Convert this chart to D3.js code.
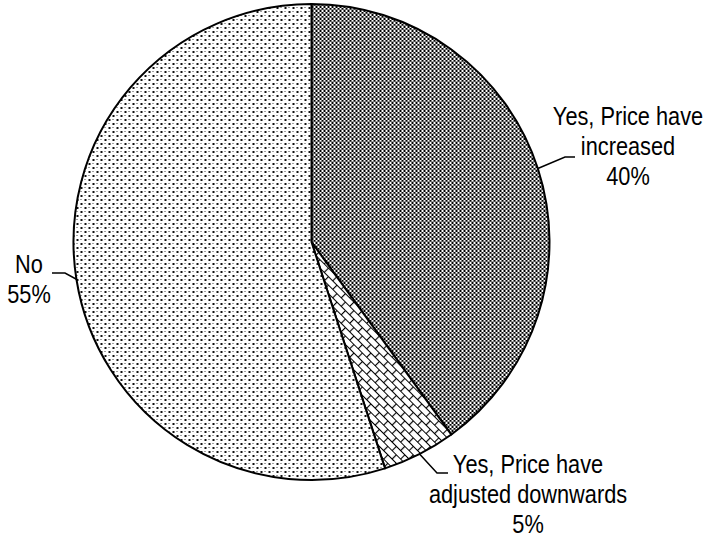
<!DOCTYPE html>
<html lang="en">
<head>
    <meta charset="UTF-8">
    <title>Price change pie</title>
    <script src="https://d3js.org/d3.v7.min.js"></script>
    <style>
        body{ margin:0; background:#fff; }
        #chart{ width:705px; height:537px; }
        .lbl{ font-family:"Liberation Sans", Arial, sans-serif; font-size:25px; fill:#000; }
    </style>
</head>
<body>
    <div id="chart"></div>
    <script>
        // data
        const categories = ["Yes, Price have increased", "Yes, Price have adjusted downwards", "No"]
        const shares = [40, 5, 55]
        const labelLines = [["Yes, Price have", "increased", "40%"],
                            ["Yes, Price have", "adjusted downwards", "5%"],
                            ["No", "55%"]]
        const patternIds = ["checker", "brick", "dots"]

        // layout
        const svgSize = {width:705, height:537}
        const center = {x:311.5, y:242}
        const radius = 238
        // where each label block sits (centre x, first baseline) and the elbow of its leader
        const labelPos = [{x:628, y:125, elbowX:565, elbowY:157, endX:575},
                          {x:528, y:473, elbowX:437, elbowY:473, endX:448},
                          {x:29, y:273, elbowX:65, elbowY:273, endX:52}]
        const lineGap = 30

        const svg = d3.select("#chart")
                        .append("svg")
                        .attr("width", svgSize.width)
                        .attr("height", svgSize.height)

        const defs = svg.append("defs")

        // dark checker
        let p = defs.append("pattern").attr("id","checker").attr("patternUnits","userSpaceOnUse")
                    .attr("width",4).attr("height",4)
        p.append("rect").attr("width",4).attr("height",4).attr("fill","#fff")
        p.append("rect").attr("width",2).attr("height",2).attr("fill","#000")
        p.append("rect").attr("x",2).attr("y",2).attr("width",2).attr("height",2).attr("fill","#000")
        p.append("rect").attr("x",0).attr("y",3).attr("width",4).attr("height",1).attr("fill","#777").attr("opacity",0.6)

        // sparse dots
        p = defs.append("pattern").attr("id","dots").attr("patternUnits","userSpaceOnUse")
                    .attr("width",8).attr("height",8)
        p.append("rect").attr("width",8).attr("height",8).attr("fill","#fff")
        p.append("rect").attr("x",1).attr("y",1).attr("width",2).attr("height",2).attr("fill","#111")
        p.append("rect").attr("x",5).attr("y",5).attr("width",2).attr("height",2).attr("fill","#111")
        p.append("rect").attr("x",5).attr("y",1).attr("width",1).attr("height",1).attr("fill","#444")
        p.append("rect").attr("x",1).attr("y",5).attr("width",1).attr("height",1).attr("fill","#444")

        // diagonal brick
        p = defs.append("pattern").attr("id","brick").attr("patternUnits","userSpaceOnUse")
                    .attr("width",12).attr("height",12).attr("patternTransform","rotate(45)")
        p.append("rect").attr("width",12).attr("height",12).attr("fill","#fff")
        p.append("path")
            .attr("d","M0,0.5H12M0,6.5H12M0.5,0V6M6.5,6V12")
            .attr("stroke","#000").attr("stroke-width",1.2).attr("fill","none")

        const pie = d3.pie().sort(null).value(d=> d)
        const arcs = pie(shares)
        const arc = d3.arc().innerRadius(0).outerRadius(radius)

        const g = svg.append("g").attr("transform",`translate(${center.x},${center.y})`)

        g.selectAll(".slice")
            .data(arcs)
            .enter()
            .append("path")
            .attr("class","slice")
            .attr("d",arc)
            .attr("fill",(d,i)=> `url(#${patternIds[i]})`)
            .attr("stroke","#000")
            .attr("stroke-width",2)
            .attr("stroke-linejoin","round")

        // leader lines: start on the rim at the slice mid angle
        arcs.forEach((d,i)=>{
            const mid = (d.startAngle + d.endAngle)/2
            const sx = center.x + radius*Math.sin(mid)
            const sy = center.y - radius*Math.cos(mid)
            const lp = labelPos[i]
            svg.append("path")
                .attr("d",d3.line()([[sx,sy],[lp.elbowX,lp.elbowY],[lp.endX,lp.elbowY]]))
                .attr("fill","none")
                .attr("stroke","#000")
                .attr("stroke-width",1.5)

            const t = svg.append("g")
                        .attr("transform",`translate(${lp.x},${lp.y}) scale(0.87,1)`)
            t.selectAll("text")
                .data(labelLines[i])
                .enter()
                .append("text")
                .attr("class","lbl")
                .attr("text-anchor","middle")
                .attr("x",0)
                .attr("y",(s,j)=> j*lineGap)
                .text(s=> s)
        })
    </script>
</body>
</html>
